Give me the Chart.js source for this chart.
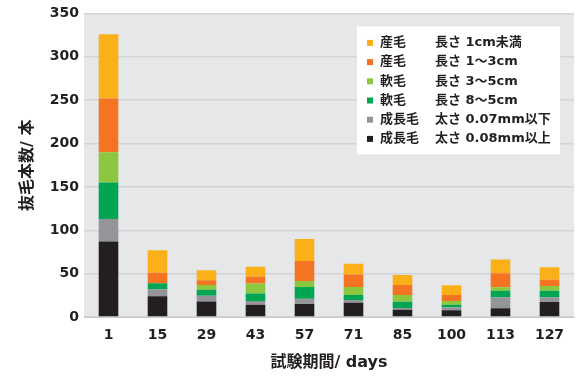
<!DOCTYPE html>
<html>
<head>
<meta charset="utf-8">
<script src="https://cdn.jsdelivr.net/npm/chart.js@4/dist/chart.umd.min.js"></script>
<style>
  html, body { margin: 0; padding: 0; background: #ffffff; }
  #wrap { width: 579px; height: 376px; }
</style>
</head>
<body>
<div id="wrap"><canvas id="c" width="579" height="376"></canvas></div>
<script>
// Test days (x axis categories)
const days = ['1', '15', '29', '43', '57', '71', '85', '100', '113', '127'];

// Number of hairs pulled per category, stacked bottom to top
const thickOver008 = [87, 24, 18, 14, 15, 16.5, 8.5, 7.7, 10, 17.3];
const thinUnder007 = [26, 8, 6.5, 4.5, 6, 3, 2, 3.5, 12.7, 5.4];
const vellus8to5   = [42, 7, 7, 8.5, 13.5, 6, 7, 3, 7.7, 7.7];
const vellus3to5   = [35, 0, 5.5, 11.5, 7, 9, 8, 4.3, 4, 5.4];
const lanugo1to3   = [62, 12, 5.5, 8, 23, 14.5, 11.5, 7, 16, 7.2];
const lanugoUnder1 = [74, 26, 11.5, 11.5, 25.5, 12.5, 11.5, 11, 16, 14.4];

// Legend labels: [kind, description]
const legendNames = [
  ['産毛', '長さ 1cm未満'],
  ['産毛', '長さ 1～3cm'],
  ['軟毛', '長さ 3～5cm'],
  ['軟毛', '長さ 8～5cm'],
  ['成長毛', '太さ 0.07mm以下'],
  ['成長毛', '太さ 0.08mm以上']
];

const yTicks = [0, 50, 100, 150, 200, 250, 300, 350];

const colors = {
  yellow: '#fbb01a',
  orange: '#f47422',
  lgreen: '#8dc63f',
  dgreen: '#00a651',
  gray:   '#939598',
  black:  '#231f20'
};

const FONT = '"DejaVu Sans", "Noto Sans CJK JP", sans-serif';

const series = [
  { data: thickOver008, color: colors.black },
  { data: thinUnder007, color: colors.gray },
  { data: vellus8to5,   color: colors.dgreen },
  { data: vellus3to5,   color: colors.lgreen },
  { data: lanugo1to3,   color: colors.orange },
  { data: lanugoUnder1, color: colors.yellow }
];

const datasets = series.map((s, i) => ({
  label: legendNames[legendNames.length - 1 - i].join(' '),
  data: s.data,
  backgroundColor: s.color,
  borderWidth: 0,
  categoryPercentage: 0.8,
  barPercentage: 0.5
}));

// Grey plotting area behind the bars
const plotBackground = {
  id: 'plotBackground',
  beforeDraw(chart) {
    const { ctx, chartArea: a } = chart;
    ctx.save();
    ctx.fillStyle = '#e6e7e8';
    ctx.fillRect(a.left, a.top, a.right - a.left, a.bottom - a.top);
    ctx.restore();
  }
};

// Two-column legend box in the upper right of the plot
const boxLegend = {
  id: 'boxLegend',
  afterDatasetsDraw(chart) {
    const { ctx, chartArea: a } = chart;
    const left = a.right - 217, top = a.top + 13, w = 203, h = 128;
    ctx.save();
    ctx.fillStyle = '#ffffff';
    ctx.fillRect(left, top, w, h);
    ctx.font = 'bold 13px ' + FONT;
    ctx.textBaseline = 'middle';
    const order = series.slice().reverse();
    order.forEach((s, i) => {
      const y = top + 16.5 + i * 19.2;
      ctx.fillStyle = s.color;
      ctx.fillRect(left + 10, y - 3, 6, 6);
      ctx.fillStyle = '#231f20';
      ctx.fillText(legendNames[i][0], left + 23, y);
      ctx.fillText(legendNames[i][1], left + 78, y);
    });
    ctx.restore();
  }
};

new Chart(document.getElementById('c'), {
  type: 'bar',
  data: { labels: days, datasets },
  plugins: [plotBackground, boxLegend],
  options: {
    responsive: false,
    animation: false,
    layout: { padding: { top: 10, right: 5, left: 0, bottom: 0 } },
    plugins: { legend: { display: false }, tooltip: { enabled: false } },
    scales: {
      x: {
        stacked: true,
        afterFit(scale) { scale.height = 59; },
        grid: { display: false, drawTicks: false },
        border: { display: true, color: '#c8c9cb', width: 1 },
        ticks: { color: '#231f20', font: { family: FONT, size: 14, weight: 'bold' }, padding: 10 },
        title: {
          display: true,
          text: '試験期間/ days',
          color: '#231f20',
          font: { family: FONT, size: 16, weight: 'bold' },
          padding: { top: 12, bottom: 4 }
        }
      },
      y: {
        stacked: true,
        min: 0,
        max: 350,
        afterBuildTicks(scale) { scale.ticks = yTicks.map(v => ({ value: v })); },
        afterFit(scale) { scale.width = 84; },
        grid: { color: '#d1d3d4', lineWidth: 1.5, drawTicks: false },
        border: { display: false },
        ticks: { color: '#231f20', font: { family: FONT, size: 14, weight: 'bold' }, padding: 5 },
        title: {
          display: true,
          text: '抜毛本数/ 本',
          color: '#231f20',
          font: { family: FONT, size: 16, weight: 'bold' },
          padding: { top: 18, bottom: 0 }
        }
      }
    }
  }
});
</script>
</body>
</html>
